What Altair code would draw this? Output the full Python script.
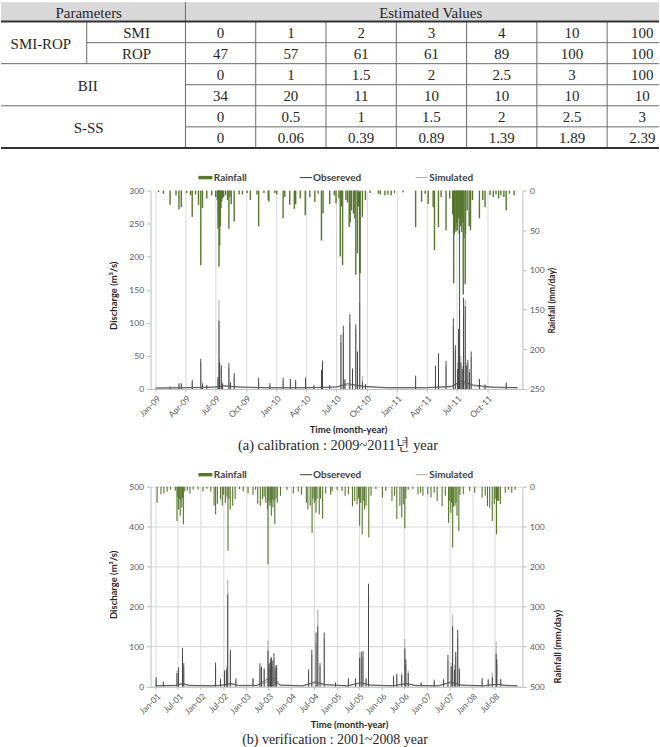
import altair as alt
import pandas as pd

# ---------------------------------------------------------------- styling
FONT_SERIF = "Liberation Serif, Noto Serif CJK KR, Noto Sans CJK KR, serif"
FONT_SANS = "Lato"
GREEN = "#56762c"
OBS_COLOR = "#3a3a3a"
SIM_COLOR = "#a9a9a9"
GRID = "#d9d9d9"
AXIS_LINE = "#bfbfbf"

# page layout (pixels)
PAGE_W = 660
PLOT_X0 = 150
PLOT_W = 373
TABLE_BAND = (0, 189)
PLOT_A_H = 199
MID_BAND = (388, 486)
PLOT_B_H = 200.5
FOOT_BAND = (686.5, 747)

# table grid
HEAD_H = 19.5
ROW_H = 21.12
SUB_X = 86
COL0 = 185
COL_W = 70.5

# ---------------------------------------------------------------- table values
header_labels = ["Parameters", "Estimated Values"]
group_labels = ["SMI-ROP", "BII", "S-SS"]
sub_labels = ["SMI", "ROP"]
smi_row = ["0", "1", "2", "3", "4", "10", "100"]
rop_row = ["47", "57", "61", "61", "89", "100", "100"]
bii_row1 = ["0", "1", "1.5", "2", "2.5", "3", "100"]
bii_row2 = ["34", "20", "11", "10", "10", "10", "10"]
sss_row1 = ["0", "0.5", "1", "1.5", "2", "2.5", "3"]
sss_row2 = ["0", "0.06", "0.39", "0.89", "1.39", "1.89", "2.39"]

# ---------------------------------------------------------------- (a) calibration 2009-2011
rain_a_dates = [
    "2009-01-10", "2009-01-25", "2009-02-14", "2009-03-04", "2009-03-13", "2009-03-20", "2009-04-05",
    "2009-04-17", "2009-04-22", "2009-05-02", "2009-05-11", "2009-05-18", "2009-05-23", "2009-06-05",
    "2009-06-20", "2009-07-02", "2009-07-07", "2009-07-09", "2009-07-11", "2009-07-12", "2009-07-14",
    "2009-07-16", "2009-07-18", "2009-07-20", "2009-07-23", "2009-07-26", "2009-08-01", "2009-08-07",
    "2009-08-11", "2009-08-14", "2009-08-18", "2009-08-27", "2009-09-11", "2009-09-21", "2009-10-05",
    "2009-10-15", "2009-11-04", "2009-11-09", "2009-11-25", "2009-12-08", "2009-12-10", "2009-12-28",
    "2010-01-03", "2010-01-22", "2010-01-27", "2010-02-11", "2010-02-25", "2010-03-01", "2010-03-15",
    "2010-03-30", "2010-04-13", "2010-04-28", "2010-05-08", "2010-05-18", "2010-05-23", "2010-06-12",
    "2010-06-26", "2010-07-01", "2010-07-10", "2010-07-14", "2010-07-17", "2010-07-21", "2010-07-31",
    "2010-08-05", "2010-08-10", "2010-08-13", "2010-08-17", "2010-08-23", "2010-08-27", "2010-08-30",
    "2010-09-04", "2010-09-07", "2010-09-12", "2010-09-19", "2010-09-28", "2010-10-12", "2010-11-06",
    "2010-11-12", "2010-11-26", "2010-12-05", "2010-12-15", "2010-12-25", "2011-01-20", "2011-02-27",
    "2011-03-17", "2011-03-28", "2011-04-06", "2011-04-21", "2011-04-25", "2011-05-07", "2011-05-15",
    "2011-05-30", "2011-06-10", "2011-06-19", "2011-06-22", "2011-06-24", "2011-06-26", "2011-06-29",
    "2011-07-01", "2011-07-03", "2011-07-07", "2011-07-09", "2011-07-12", "2011-07-14", "2011-07-16",
    "2011-07-18", "2011-07-21", "2011-07-23", "2011-07-27", "2011-07-28", "2011-08-02", "2011-08-08",
    "2011-08-12", "2011-08-18", "2011-09-08", "2011-09-18", "2011-09-25", "2011-10-10", "2011-10-20",
    "2011-10-28", "2011-11-05", "2011-11-12", "2011-11-21", "2011-11-28", "2011-12-08", "2011-12-22",
]
rain_a_mm = [
    2, 4, 18, 6, 24, 21, 3,
    6, 33, 5, 18, 94, 22, 10,
    6, 8, 12, 48, 30, 96, 69,
    45, 22, 14, 10, 8, 6, 12,
    48, 8, 17, 39, 5, 5, 3,
    12, 5, 45, 3, 12, 14, 3,
    5, 35, 8, 18, 23, 17, 10,
    31, 8, 14, 4, 63, 29, 17,
    6, 16, 10, 83, 20, 94, 12,
    15, 46, 40, 25, 29, 35, 106,
    79, 20, 104, 33, 12, 3, 4,
    5, 6, 5, 6, 3, 2, 46,
    14, 4, 17, 21, 75, 46, 8,
    50, 10, 30, 117, 55, 48, 52,
    40, 50, 35, 54, 45, 30, 52,
    40, 131, 60, 118, 54, 25, 45,
    50, 12, 35, 12, 21, 6, 8,
    5, 10, 6, 8, 25, 4, 6,
]

q_a_dates = [
    "2009-02-14", "2009-03-13", "2009-03-20", "2009-04-22", "2009-05-18", "2009-05-23", "2009-06-05",
    "2009-07-09", "2009-07-12", "2009-07-14", "2009-07-19", "2009-07-23", "2009-08-11", "2009-08-16",
    "2009-08-27", "2009-11-09", "2009-12-13", "2010-01-22", "2010-02-13", "2010-03-01", "2010-03-31",
    "2010-04-25", "2010-05-18", "2010-05-21", "2010-06-12", "2010-07-16", "2010-07-23", "2010-07-28",
    "2010-08-12", "2010-08-20", "2010-08-30", "2010-09-04", "2010-09-11", "2010-09-19", "2010-09-28",
    "2011-02-27", "2011-04-28", "2011-05-07", "2011-05-30", "2011-06-21", "2011-06-27", "2011-07-04",
    "2011-07-07", "2011-07-10", "2011-07-14", "2011-07-18", "2011-07-22", "2011-07-27", "2011-07-30",
    "2011-08-04", "2011-08-09", "2011-08-14", "2011-09-08", "2011-09-25", "2011-11-28",
]
q_a_obs = [
    3.5, 8.6, 8, 13.6, 45.5, 8, 6,
    18, 103, 40, 36, 8, 39, 10,
    24, 17, 8.6, 17, 15, 13.6, 17,
    6, 29, 43, 6, 82, 95.5, 15,
    113, 31, 98, 56.6, 298, 11, 7,
    20, 35, 54, 42.4, 107, 66, 30,
    91, 240, 40, 30, 138, 125, 35,
    44, 25, 56.6, 15, 6, 9.6,
]
q_a_sim = [
    4, 7, 9, 10, 40, 10, 5,
    15, 135, 45, 30, 10, 32, 8,
    18, 12, 6, 12, 10, 10, 14,
    5, 25, 38, 5, 70, 85, 12,
    100, 28, 90, 45, 130, 20, 8,
    15, 30, 45, 35, 95, 60, 40,
    80, 120, 50, 35, 110, 135, 40,
    38, 30, 48, 12, 8, 8,
]
base_a_dates = [
    "2009-01-01", "2009-04-01", "2009-07-01", "2009-07-25", "2009-09-15", "2009-12-01",
    "2010-04-01", "2010-07-01", "2010-08-05", "2010-09-25", "2010-12-01", "2011-04-01",
    "2011-06-15", "2011-07-15", "2011-08-20", "2011-10-15", "2012-01-01",
]
base_a_obs = [1.5, 2, 3, 5, 3, 2, 2, 3, 8, 4, 2, 2, 4, 12, 6, 3, 2]
base_a_sim = [1, 1.5, 2.5, 4, 2.5, 1.5, 1.5, 2.5, 6, 3, 1.5, 1.5, 3, 9, 4.5, 2, 1.5]

# ---------------------------------------------------------------- (b) verification 2001-2008
rain_b_dates = [
    "2001-01-14", "2001-02-14", "2001-03-10", "2001-04-05", "2001-05-01", "2001-06-10", "2001-06-23",
    "2001-06-30", "2001-07-06", "2001-07-12", "2001-07-19", "2001-07-25", "2001-08-01", "2001-08-07",
    "2001-08-14", "2001-08-25", "2001-09-15", "2001-10-06", "2001-11-01", "2001-12-10",
    "2002-01-19", "2002-02-20", "2002-03-23", "2002-04-19", "2002-05-01", "2002-05-15", "2002-06-10",
    "2002-06-24", "2002-07-05", "2002-07-19", "2002-08-01", "2002-08-09", "2002-08-16", "2002-08-27",
    "2002-09-16", "2002-10-06", "2002-11-10", "2002-12-10",
    "2003-01-18", "2003-02-27", "2003-03-20", "2003-04-06", "2003-04-27", "2003-05-15", "2003-05-28",
    "2003-06-10", "2003-06-24", "2003-06-28", "2003-07-05", "2003-07-14", "2003-07-20", "2003-07-25",
    "2003-08-01", "2003-08-07", "2003-08-15", "2003-08-22", "2003-09-01", "2003-09-11", "2003-10-07",
    "2003-11-28",
    "2004-01-19", "2004-02-27", "2004-03-24", "2004-05-03", "2004-05-15", "2004-06-03", "2004-06-18",
    "2004-06-25", "2004-07-06", "2004-07-13", "2004-07-20", "2004-07-28", "2004-08-15", "2004-08-25",
    "2004-09-11", "2004-10-06", "2004-11-15", "2004-11-27",
    "2005-01-06", "2005-02-15", "2005-03-12", "2005-04-07", "2005-05-10", "2005-05-28", "2005-06-16",
    "2005-06-28", "2005-07-07", "2005-07-15", "2005-07-28", "2005-08-05", "2005-08-16", "2005-08-28",
    "2005-09-19", "2005-10-07", "2005-11-15",
    "2006-01-07", "2006-02-03", "2006-03-25", "2006-04-15", "2006-05-03", "2006-05-28", "2006-06-12",
    "2006-06-25", "2006-07-07", "2006-07-15", "2006-08-03", "2006-09-10", "2006-10-21", "2006-11-11",
    "2006-11-30",
    "2007-01-08", "2007-02-03", "2007-03-01", "2007-03-25", "2007-05-04", "2007-05-30", "2007-06-25",
    "2007-07-05", "2007-07-13", "2007-07-20", "2007-07-28", "2007-08-05", "2007-08-16", "2007-08-24",
    "2007-09-01", "2007-09-16", "2007-09-25", "2007-10-22", "2007-12-13",
    "2008-01-22", "2008-03-22", "2008-04-16", "2008-05-04", "2008-05-22", "2008-06-12", "2008-06-28",
    "2008-07-05", "2008-07-16", "2008-07-24", "2008-08-03", "2008-08-16", "2008-09-25", "2008-10-21",
    "2008-11-16", "2008-12-13",
]
rain_b_mm = [
    40, 19, 17, 13, 8, 10, 86,
    25, 57, 30, 73, 35, 52, 28,
    94, 12, 10, 17, 7, 7,
    12, 5, 12, 48, 69, 43, 31,
    48, 20, 40, 25, 160, 30, 57,
    48, 31, 6, 12,
    17, 20, 8, 43, 48, 31, 25,
    40, 57, 194, 35, 48, 40, 73,
    30, 52, 35, 94, 30, 40, 23,
    8,
    17, 12, 20, 40, 57, 48, 115,
    30, 40, 35, 65, 30, 69, 30,
    80, 17, 20, 12,
    8, 11, 23, 19, 49, 36, 44,
    30, 98, 40, 119, 35, 57, 48,
    127, 23, 6,
    27, 11, 36, 23, 81, 48, 77,
    44, 104, 30, 8, 6, 19, 15,
    23,
    19, 27, 15, 36, 49, 23, 90,
    35, 65, 40, 152, 50, 48, 40,
    73, 111, 20, 19, 11,
    15, 27, 23, 49, 53, 86, 44,
    30, 119, 35, 36, 44, 15, 8,
    15, 8,
]

q_b_dates = [
    "2001-01-06", "2001-03-05", "2001-06-23", "2001-07-06", "2001-08-07", "2001-08-17",
    "2002-05-01", "2002-06-10", "2002-07-12", "2002-07-27", "2002-08-07", "2002-08-28", "2002-10-12",
    "2003-02-27", "2003-04-24", "2003-05-07", "2003-05-28", "2003-06-28", "2003-07-05", "2003-07-14",
    "2003-07-20", "2003-07-25", "2003-08-01", "2003-08-15", "2003-08-25", "2003-09-06",
    "2004-05-21", "2004-06-16", "2004-07-20", "2004-08-03", "2004-08-21", "2004-09-24", "2004-12-24",
    "2005-04-07", "2005-06-03", "2005-07-07", "2005-07-20", "2005-08-03", "2005-08-28", "2005-09-17",
    "2006-04-06", "2006-05-03", "2006-06-12", "2006-07-07", "2006-07-15", "2006-08-03", "2006-11-15",
    "2007-03-01", "2007-05-16", "2007-06-20", "2007-07-16", "2007-07-28", "2007-08-11", "2007-08-22",
    "2007-09-07", "2007-09-20",
    "2008-03-22", "2008-05-10", "2008-06-12", "2008-07-13", "2008-07-19", "2008-08-19",
]
q_b_obs = [
    23, 12.5, 33, 48, 96, 58,
    60, 19, 40, 42, 230, 92, 21,
    21, 58, 50, 46, 90, 55, 60,
    70, 73, 65, 83, 50, 54,
    43, 92, 135, 150, 58, 135, 10,
    21, 21, 72, 87, 89, 21, 257,
    27, 32, 29, 95, 68, 33, 10,
    17, 17, 79, 50, 150, 42, 87,
    142, 46,
    21, 17, 23, 82, 68, 18,
]
q_b_sim = [
    15, 8, 40, 40, 80, 50,
    50, 15, 35, 50, 268, 80, 15,
    18, 45, 40, 40, 115, 45, 42,
    50, 60, 50, 70, 40, 45,
    35, 80, 110, 193, 50, 120, 8,
    15, 18, 85, 70, 75, 18, 230,
    20, 25, 35, 119, 55, 40, 8,
    12, 20, 65, 60, 179, 55, 75,
    120, 40,
    15, 20, 35, 112, 55, 20,
]
base_b_dates = [
    "2001-01-01", "2001-06-15", "2001-08-10", "2001-10-01", "2002-04-01", "2002-07-01", "2002-09-01",
    "2002-11-01", "2003-04-01", "2003-07-01", "2003-08-20", "2003-10-01", "2004-04-01", "2004-07-15",
    "2004-10-01", "2005-04-01", "2005-07-15", "2005-10-01", "2006-04-01", "2006-07-15", "2006-10-01",
    "2007-04-01", "2007-07-15", "2007-10-01", "2008-04-01", "2008-07-20", "2008-10-01", "2009-01-01",
]
base_b_obs = [2, 3, 8, 3, 2, 4, 8, 3, 3, 20, 20, 4, 2, 12, 5, 2, 10, 4, 2, 8, 3, 2, 12, 4, 2, 6, 3, 2]
base_b_sim = [1.5, 2.5, 6, 2, 1.5, 3, 6, 2, 2.5, 12, 14, 3, 1.5, 8, 4, 1.5, 8, 3, 1.5, 6, 2, 1.5, 9, 3,
              1.5, 5, 2, 1.5]

legend_labels = ["Rainfall", "Obsereved", "Simulated"]
caption_a = "(a) calibration : 2009~2011년 year"
caption_b = "(b) verification : 2001~2008 year"


# ---------------------------------------------------------------- helpers
def page_x(field):
    return alt.X(f"{field}:Q", axis=None,
                 scale=alt.Scale(domain=[0, PAGE_W], range=[-PLOT_X0, PAGE_W - PLOT_X0], nice=False, zero=False))


def page_y(field, band):
    return alt.Y(f"{field}:Q", axis=None,
                 scale=alt.Scale(domain=list(band), range=[0, band[1] - band[0]], nice=False, zero=False))


def legend_layers(y_mid, band):
    swatch = pd.DataFrame({"x": [198], "x2": [212], "y": [y_mid - 1.7], "y2": [y_mid + 1.7]})
    keys = pd.DataFrame({"x": [300, 416], "x2": [312, 428], "y": [y_mid, y_mid],
                         "c": [OBS_COLOR, SIM_COLOR]})
    names = pd.DataFrame({"x": [213.5, 313, 429.5], "y": [y_mid] * 3, "label": legend_labels})
    return [
        alt.Chart(swatch).mark_rect(color=GREEN).encode(
            x=page_x("x"), x2="x2", y=page_y("y", band), y2="y2"),
        alt.Chart(keys).mark_rule(strokeWidth=1).encode(
            x=page_x("x"), x2="x2", y=page_y("y", band), color=alt.Color("c:N", scale=None)),
        alt.Chart(names).mark_text(align="left", baseline="middle", font=FONT_SANS, fontSize=10,
                                   fontWeight="bold", color="#404040").encode(
            x=page_x("x"), y=page_y("y", band), text="label:N"),
    ]


def caption_layer(text, x, y, band, size=14.5):
    df = pd.DataFrame({"x": [x], "y": [y], "label": [text]})
    return alt.Chart(df).mark_text(align="center", baseline="middle", font=FONT_SERIF, fontSize=size,
                                   color="#262626").encode(
        x=page_x("x"), y=page_y("y", band), text="label:N")


# ---------------------------------------------------------------- table panel
value_rows = [smi_row, rop_row, bii_row1, bii_row2, sss_row1, sss_row2]
cells = []
for i, row in enumerate(value_rows):
    for j, v in enumerate(row):
        cells.append({"x": COL0 + COL_W * (j + 0.5), "y": HEAD_H + ROW_H * (i + 0.5), "label": v})
cells += [
    {"x": 88, "y": HEAD_H / 2, "label": header_labels[0]},
    {"x": 431, "y": HEAD_H / 2, "label": header_labels[1]},
    {"x": 40, "y": HEAD_H + ROW_H, "label": group_labels[0]},
    {"x": 87, "y": HEAD_H + ROW_H * 3, "label": group_labels[1]},
    {"x": 88, "y": HEAD_H + ROW_H * 5, "label": group_labels[2]},
    {"x": 136, "y": HEAD_H + ROW_H * 0.5, "label": sub_labels[0]},
    {"x": 136, "y": HEAD_H + ROW_H * 1.5, "label": sub_labels[1]},
]
cells_df = pd.DataFrame(cells)

row_edge = [HEAD_H + ROW_H * k for k in range(7)]
thin = [
    {"x": SUB_X, "x2": PAGE_W, "y": row_edge[1], "y2": row_edge[1]},
    {"x": 0, "x2": PAGE_W, "y": row_edge[2], "y2": row_edge[2]},
    {"x": COL0, "x2": PAGE_W, "y": row_edge[3], "y2": row_edge[3]},
    {"x": 0, "x2": PAGE_W, "y": row_edge[4], "y2": row_edge[4]},
    {"x": COL0, "x2": PAGE_W, "y": row_edge[5], "y2": row_edge[5]},
    {"x": SUB_X, "x2": SUB_X, "y": row_edge[0], "y2": row_edge[2]},
    {"x": COL0, "x2": COL0, "y": 0, "y2": row_edge[6]},
]
for k in range(1, 7):
    xk = COL0 + COL_W * k
    thin.append({"x": xk, "x2": xk, "y": row_edge[0], "y2": row_edge[6]})
thick = [
    {"x": 0, "x2": PAGE_W, "y": row_edge[0], "y2": row_edge[0]},
    {"x": 0, "x2": PAGE_W, "y": row_edge[6], "y2": row_edge[6]},
]
header_df = pd.DataFrame({"x": [0], "x2": [PAGE_W], "y": [0], "y2": [HEAD_H]})

table_panel = alt.layer(
    alt.Chart(header_df).mark_rect(color="#d9d9d9").encode(
        x=page_x("x"), x2="x2", y=page_y("y", TABLE_BAND), y2="y2"),
    alt.Chart(pd.DataFrame(thin)).mark_rule(color="#6b6b6b", strokeWidth=1).encode(
        x=page_x("x"), x2="x2", y=page_y("y", TABLE_BAND), y2="y2"),
    alt.Chart(pd.DataFrame(thick)).mark_rule(color="#333333", strokeWidth=2).encode(
        x=page_x("x"), x2="x2", y=page_y("y", TABLE_BAND), y2="y2"),
    alt.Chart(cells_df).mark_text(align="center", baseline="middle", font=FONT_SERIF, fontSize=15,
                                  color="#262626", dy=1).encode(
        x=page_x("x"), y=page_y("y", TABLE_BAND), text="label:N"),
    *legend_layers(176, TABLE_BAND),
).properties(width=PLOT_W, height=TABLE_BAND[1] - TABLE_BAND[0])


# ---------------------------------------------------------------- hydrograph panels
def utc_day(y, m, d=1):
    return alt.DateTime(year=y, month=m, date=d, utc=True)


def hydrograph(rain_dates, rain_mm, q_dates, q_obs, q_sim, b_dates, b_obs, b_sim,
               start, end, ticks, q_max, q_step, r_max, r_step, height, q_grid, rain_w, pos):
    rain = pd.DataFrame({"date": rain_dates, "rain": rain_mm})
    q = pd.DataFrame({"date": q_dates + q_dates, "q": q_sim + q_obs,
                      "series": ["Simulated"] * len(q_sim) + ["Obsereved"] * len(q_obs)})
    base = pd.DataFrame({"date": b_dates + b_dates, "q": b_sim + b_obs,
                         "series": ["Simulated"] * len(b_sim) + ["Obsereved"] * len(b_obs)})

    x = alt.X("date:T",
              scale=alt.Scale(type="utc", domain=[start, end]),
              axis=alt.Axis(values=ticks, format="%b-%y", labelAngle=315, grid=True, gridColor=GRID,
                            tickSize=3, labelPadding=2, title="Time (month-year)", titleFontSize=9.5,
                            titleX=pos["tx"], titleY=pos["ty"], titleAlign="center",
                            titleBaseline="middle"))
    rain_layer = alt.Chart(rain).mark_bar(size=rain_w, color=GREEN).encode(
        x=x,
        y=alt.Y("rain:Q", scale=alt.Scale(domain=[0, r_max], reverse=True, nice=False),
                axis=alt.Axis(orient="right", values=list(range(0, r_max + 1, r_step)), grid=False,
                              title="Rainfall (mm/day)", titleAngle=270, titleX=pos["rx"],
                              titleY=pos["ry"], titleFontSize=pos["rfs"], titleAlign="center",
                              titleBaseline="middle")),
    )
    qy = alt.Y("q:Q", scale=alt.Scale(domain=[0, q_max], nice=False),
               axis=alt.Axis(orient="left", values=list(range(0, q_max + 1, q_step)), grid=q_grid,
                             gridColor=GRID, title="Discharge (m³/s)", titleAngle=270,
                             titleX=pos["lx"], titleY=pos["ly"], titleFontSize=9.5,
                             titleAlign="center", titleBaseline="middle"))
    sim_flow = alt.Chart(base).transform_filter(alt.datum.series == "Simulated").mark_line(
        color=SIM_COLOR, strokeWidth=1).encode(x=x, y=qy)
    obs_flow = alt.Chart(base).transform_filter(alt.datum.series == "Obsereved").mark_line(
        color=OBS_COLOR, strokeWidth=0.8).encode(x=x, y=qy)
    sim_peaks = alt.Chart(q).transform_filter(alt.datum.series == "Simulated").mark_bar(
        size=1, color=SIM_COLOR).encode(x=x, y=qy)
    obs_peaks = alt.Chart(q).transform_filter(alt.datum.series == "Obsereved").mark_bar(
        size=0.9, color=OBS_COLOR).encode(x=x, y=qy)
    flow = alt.layer(sim_flow, obs_flow, sim_peaks, obs_peaks)
    return alt.layer(rain_layer, flow).resolve_scale(y="independent").properties(
        width=PLOT_W, height=height)


ticks_a = [utc_day(y, m) for y in (2009, 2010, 2011) for m in (1, 4, 7, 10)]
ticks_b = [utc_day(y, m) for y in range(2001, 2009) for m in (1, 7)]

chart_a = hydrograph(rain_a_dates, rain_a_mm, q_a_dates, q_a_obs, q_a_sim,
                     base_a_dates, base_a_obs, base_a_sim,
                     utc_day(2009, 1), utc_day(2012, 1), ticks_a, 300, 50, 250, 50,
                     PLOT_A_H, False, 1.4,
                     {"tx": 198, "ty": 41, "rx": 29, "ry": 110, "rfs": 8.5, "lx": -37, "ly": 105})

chart_b = hydrograph(rain_b_dates, rain_b_mm, q_b_dates, q_b_obs, q_b_sim,
                     base_b_dates, base_b_obs, base_b_sim,
                     utc_day(2001, 1), utc_day(2009, 1), ticks_b, 500, 100, 500, 100,
                     PLOT_B_H, True, 1.1,
                     {"tx": 199, "ty": 38, "rx": 35, "ry": 160, "rfs": 9.5, "lx": -37, "ly": 98})

mid_panel = alt.layer(
    caption_layer(caption_a, 338, 445, MID_BAND),
    *legend_layers(474, MID_BAND),
).properties(width=PLOT_W, height=MID_BAND[1] - MID_BAND[0])

foot_panel = alt.layer(
    caption_layer(caption_b, 335, 739.5, FOOT_BAND, size=14),
).properties(width=PLOT_W, height=FOOT_BAND[1] - FOOT_BAND[0])

chart = alt.vconcat(
    table_panel, chart_a, mid_panel, chart_b, foot_panel, spacing=0, bounds="flush"
).properties(
    padding=0, background="white"
).configure_view(
    stroke=None
).configure_axis(
    labelFont=FONT_SANS, labelFontSize=8.5, labelColor="#595959",
    titleFont=FONT_SANS, titleFontWeight="bold", titleColor="#262626",
    domainColor=AXIS_LINE, tickColor=AXIS_LINE, tickSize=4, labelPadding=3,
    labelFlush=False, labelOverlap=False,
)

chart.save("out.html", embed_options={"renderer": "svg", "actions": False})
